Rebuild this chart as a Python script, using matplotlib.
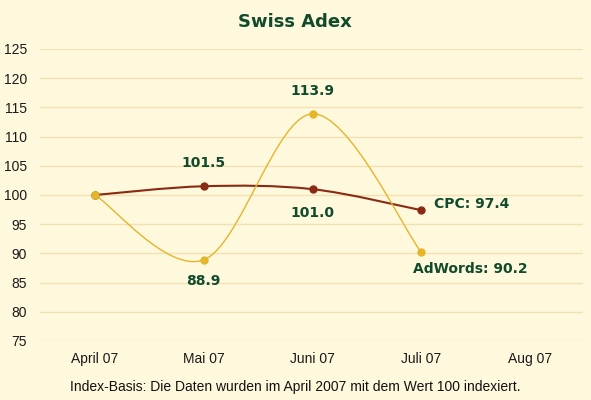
import matplotlib
matplotlib.use("Agg")
import matplotlib.pyplot as plt
from matplotlib.path import Path
from matplotlib.patches import PathPatch

months = ["April 07", "Mai 07", "Juni 07", "Juli 07", "Aug 07"]
cpc = [100.0, 101.5, 101.0, 97.4]
adwords = [100.0, 88.9, 113.9, 90.2]
yticks = [75, 80, 85, 90, 95, 100, 105, 110, 115, 120, 125]
title = "Swiss Adex"
footer = "Index-Basis: Die Daten wurden im April 2007 mit dem Wert 100 indexiert."

BG = "#FEF8DD"
GRID = "#F2E2B2"
GREEN = "#124A2C"
CPC_C = "#8A2A12"
AD_C = "#E5B52A"


def smooth_path(xs, ys):
    pts = list(zip(xs, ys))
    n = len(pts)
    verts = [pts[0]]
    codes = [Path.MOVETO]
    for i in range(n - 1):
        p0 = pts[i - 1] if i > 0 else pts[i]
        p1 = pts[i]
        p2 = pts[i + 1]
        p3 = pts[i + 2] if i + 2 < n else pts[i + 1]
        c1 = (p1[0] + (p2[0] - p0[0]) / 6, p1[1] + (p2[1] - p0[1]) / 6)
        c2 = (p2[0] - (p3[0] - p1[0]) / 6, p2[1] - (p3[1] - p1[1]) / 6)
        verts += [c1, c2, p2]
        codes += [Path.CURVE4] * 3
    return Path(verts, codes)


fig = plt.figure(figsize=(5.91, 4.0), dpi=100, facecolor=BG)
ax = fig.add_axes([40 / 591, 59 / 400, 543 / 591, 292 / 400])
ax.set_facecolor(BG)
ax.set_xlim(-0.506, 4.487)
ax.set_ylim(75, 125)
for s in ax.spines.values():
    s.set_visible(False)
ax.set_yticks(yticks)
ax.set_xticks(range(len(months)))
ax.set_xticklabels(months)
ax.tick_params(length=0, labelsize=10, colors="#1a1a1a")
ax.tick_params(axis="y", pad=9.5)
ax.tick_params(axis="x", pad=8)
for lab in ax.get_xticklabels() + ax.get_yticklabels():
    lab.set_fontfamily("Liberation Sans")
ax.grid(axis="y", color=GRID, linewidth=1.0)
ax.set_axisbelow(True)

xs = list(range(len(cpc)))
ax.add_patch(PathPatch(smooth_path(xs, cpc), fill=False, edgecolor=CPC_C, linewidth=1.5, zorder=3))
ax.add_patch(PathPatch(smooth_path(xs, adwords), fill=False, edgecolor=AD_C, linewidth=1.0, zorder=3))
ax.plot(xs, cpc, linestyle="none", marker="o", markersize=5, color=CPC_C, zorder=4)
ax.plot(xs, adwords, linestyle="none", marker="o", markersize=5, color=AD_C, zorder=4.5)

lab_kw = dict(color=GREEN, fontsize=10, fontweight="bold", family="DejaVu Sans", zorder=5)
ax.annotate(f"{cpc[1]:.1f}", (1, cpc[1]), xytext=(0, 17), textcoords="offset points", ha="center", va="center", **lab_kw)
ax.annotate(f"{adwords[1]:.1f}", (1, adwords[1]), xytext=(0, -15), textcoords="offset points", ha="center", va="center", **lab_kw)
ax.annotate(f"{adwords[2]:.1f}", (2, adwords[2]), xytext=(0, 16.5), textcoords="offset points", ha="center", va="center", **lab_kw)
ax.annotate(f"{cpc[2]:.1f}", (2, cpc[2]), xytext=(0, -17.5), textcoords="offset points", ha="center", va="center", **lab_kw)
ax.annotate(f"CPC: {cpc[3]:.1f}", (3, cpc[3]), xytext=(9, 4.5), textcoords="offset points", ha="left", va="center", **lab_kw)
ax.annotate(f"AdWords: {adwords[3]:.1f}", (3, adwords[3]), xytext=(-6, -12), textcoords="offset points", ha="left", va="center", **lab_kw)

fig.text(295 / 591, 1 - 22 / 400, title, ha="center", va="center", color=GREEN,
         fontsize=13, fontweight="bold", family="DejaVu Sans")
fig.text(295 / 591, 1 - 387 / 400, footer, ha="center", va="center", color="#111111",
         fontsize=10, family="Liberation Sans")

fig.savefig("out.png", dpi=100, facecolor=BG)
